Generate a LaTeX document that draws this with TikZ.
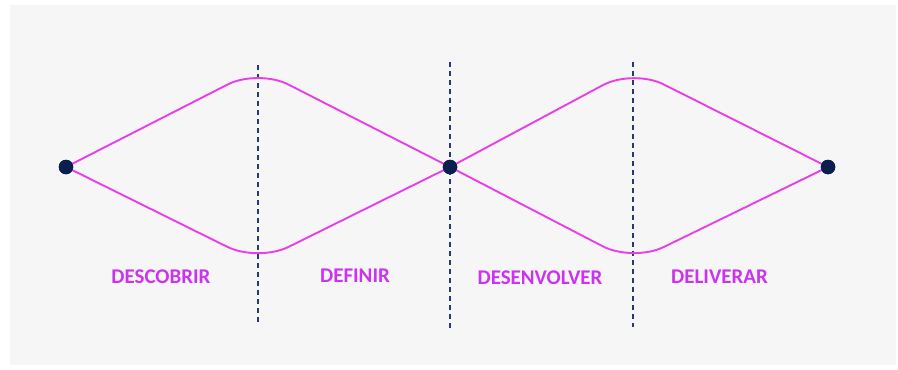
\documentclass[tikz,border=0pt]{standalone}
\usepackage{fontspec}
\setmainfont{Carlito}
\definecolor{bg}{HTML}{F6F6F6}
\definecolor{mag}{HTML}{E83FE8}
\definecolor{txt}{HTML}{CC33EE}
\definecolor{navy}{HTML}{0B1F4E}
\definecolor{dash}{HTML}{233B6E}
\tikzset{
  curve/.style={draw=mag, line width=1.9bp, rounded corners=34bp},
  divider/.style={draw=dash, line width=1.4bp, dash pattern=on 5bp off 4bp},
  dot/.style={circle, fill=navy, inner sep=0pt, minimum size=14.5bp},
  phase/.style={text=txt, font=\bfseries\fontsize{21}{24}\selectfont, inner sep=0pt}
}
\begin{document}
\begin{tikzpicture}[x=1bp,y=-1bp]
\useasboundingbox (0,0) rectangle (898,369);
\fill[white] (0,0) rectangle (898,369);
\fill[bg] (10,5) rectangle (896,365);
% dividers
\coordinate (d1t) at (258,65); \coordinate (d1b) at (258,322);
\coordinate (d2t) at (450,62); \coordinate (d2b) at (450,328);
\coordinate (d3t) at (633,62); \coordinate (d3b) at (633,327);
\draw[divider] (d1t) -- (d1b);
\draw[divider] (d2t) -- (d2b);
\draw[divider] (d3t) -- (d3b);
% nodes
\node[dot] (L) at (66,167) {};
\node[dot] (M) at (450,167) {};
\node[dot] (R) at (828,167) {};
\coordinate (p1) at (258,69);
\coordinate (v1) at (258,262);
\coordinate (p2) at (633,69);
\coordinate (v2) at (633,262);
\draw[curve] (L.center) -- (p1) -- (M.center);
\draw[curve] (L.center) -- (v1) -- (M.center);
\draw[curve] (M.center) -- (p2) -- (R.center);
\draw[curve] (M.center) -- (v2) -- (R.center);
\node[dot] at (L) {};
\node[dot] at (M) {};
\node[dot] at (R) {};
% labels
\node[phase] (t1) at (161,276.5) {DESCOBRIR};
\node[phase] (t2) at (355,275.5) {DEFINIR};
\node[phase] (t3) at (540,277.5) {DESENVOLVER};
\node[phase] (t4) at (719.5,276.5) {DELIVERAR};
\end{tikzpicture}
\end{document}
